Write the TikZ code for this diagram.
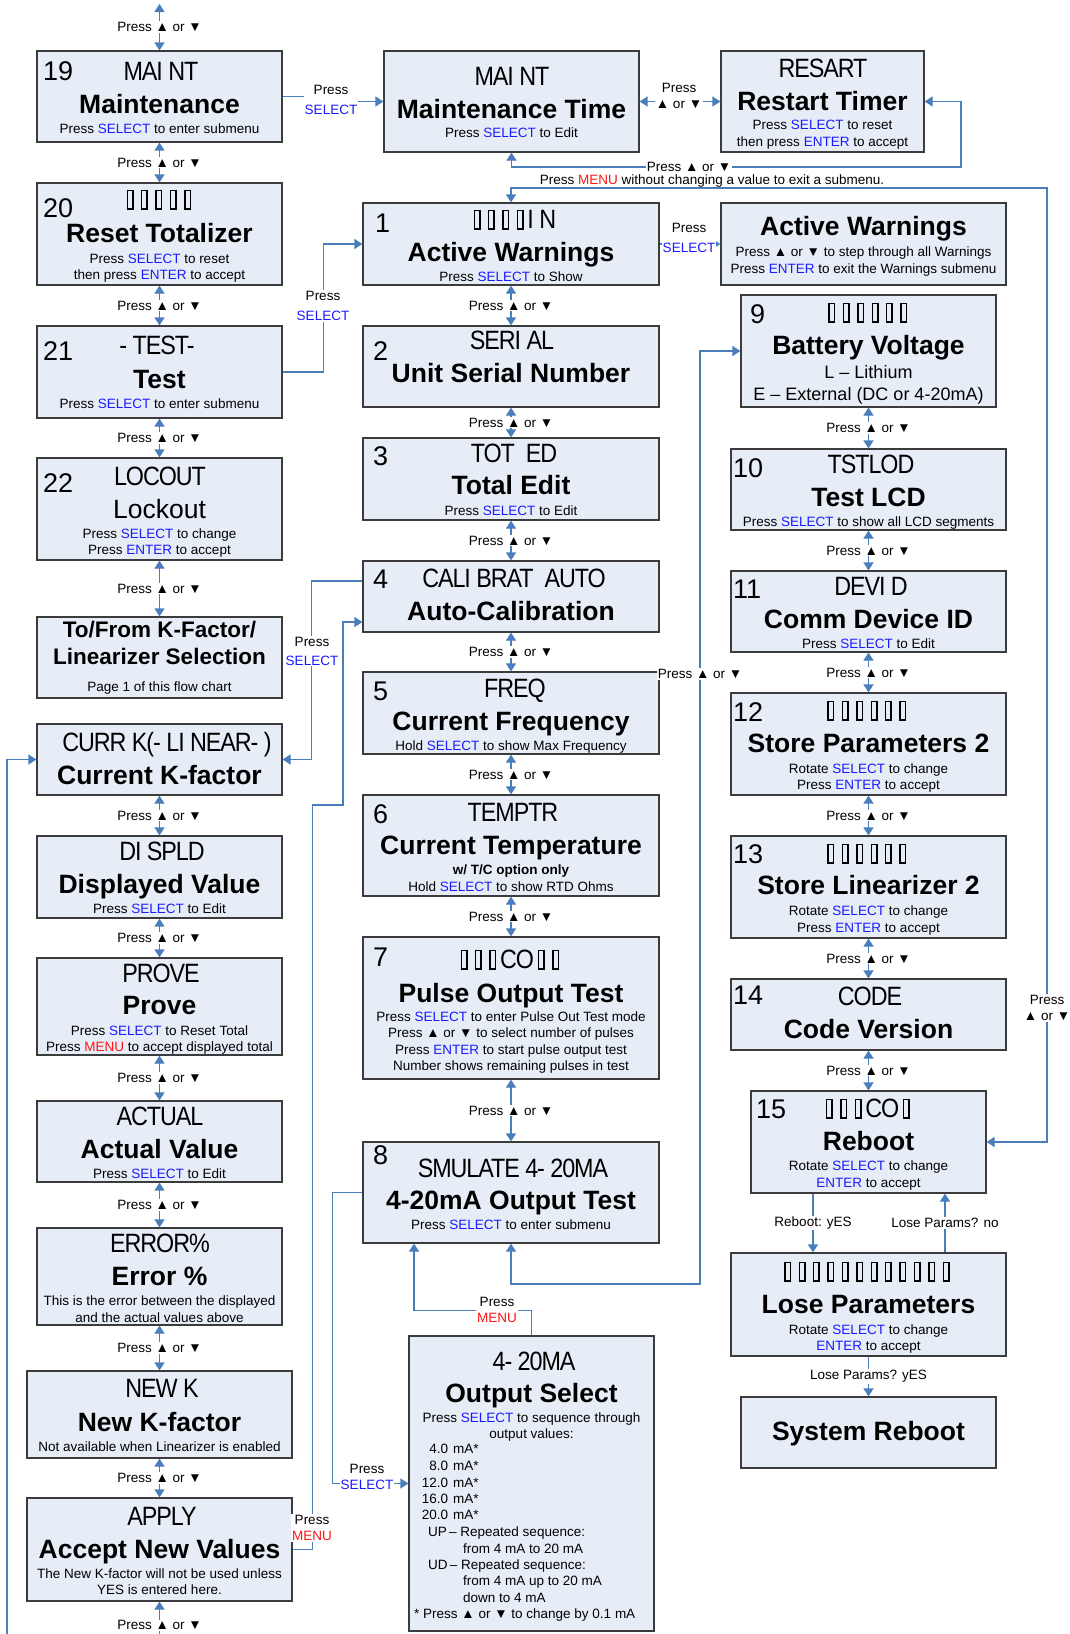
\documentclass[tikz,border=0pt]{standalone}
\usepackage{fontspec}
\usepackage{xcolor}
\usetikzlibrary{arrows.meta}
\setmainfont{Liberation Sans}
\newfontfamily\lcdfamily[FakeStretch=0.88, LetterSpace=-4]{Liberation Sans}

\definecolor{panelfill}{RGB}{231,237,247}
\definecolor{panelline}{RGB}{60,60,60}
\definecolor{flowblue}{RGB}{74,126,187}
\definecolor{keyblue}{RGB}{26,26,255}
\definecolor{keyred}{RGB}{255,20,20}

\newcommand{\titlesize}{\fontsize{26.5}{30}\selectfont\bfseries}
\newcommand{\notesize}{\fontsize{13.5}{16}\selectfont}
\newcommand{\lcdsize}{\fontsize{26.5}{30}\selectfont\lcdfamily}
\newcommand{\numsize}{\fontsize{27}{30}\selectfont}
\newcommand{\kSel}{\textcolor{keyblue}{SELECT}}
\newcommand{\kEnt}{\textcolor{keyblue}{ENTER}}
\newcommand{\kMenu}{\textcolor{keyred}{MENU}}
\newcommand{\nobox}{\hspace{3.7pt}{\setlength{\fboxsep}{0pt}\setlength{\fboxrule}{1.5pt}\fbox{\rule{0pt}{17pt}\hspace{4pt}}}\hspace{3.7pt}}

\begin{document}
\begin{tikzpicture}[x=1pt, y=-1pt, >={Triangle[width=10pt,length=8pt]},
    panel/.style={draw=panelline, fill=panelfill, line width=1.2pt, inner sep=0pt},
    lcdtxt/.style={anchor=base, inner sep=0pt, font=\lcdsize},
    ttl/.style={anchor=base, inner sep=0pt, font=\titlesize},
    notetxt/.style={anchor=base, inner sep=0pt, font=\notesize},
    numtag/.style={anchor=base west, inner sep=0pt, font=\numsize},
    lbl/.style={fill=white, inner sep=1pt, align=center, font=\notesize},
    flow/.style={draw=flowblue, line width=1.2pt}]

\path[use as bounding box, fill=white] (0,0) rectangle (1069,1634);

% left column
\node[panel, minimum width=245pt, minimum height=91pt] (p19) at (159.5,96.5) {};
\node[numtag] (p19n) at (43,80) {19};
\node[lcdtxt] (p19a) at (161,80) {MAI NT};
\node[ttl] (p19b) at (159.5,113) {Maintenance};
\node[notetxt] (p19c) at (159.5,133) {Press \kSel{} to enter submenu};

\node[panel, minimum width=245pt, minimum height=102pt] (p20) at (159.5,234) {};
\node[numtag] (p20n) at (43,217) {20};
\node[lcdtxt] (p20a) at (157,208) {\nobox\nobox\nobox\nobox\nobox};
\node[ttl] (p20b) at (159.5,242) {Reset Totalizer};
\node[notetxt] (p20c) at (159.5,263) {Press \kSel{} to reset};
\node[notetxt] (p20d) at (159.5,279) {then press \kEnt{} to accept};

\node[panel, minimum width=245pt, minimum height=92pt] (p21) at (159.5,372) {};
\node[numtag] (p21n) at (43,360) {21};
\node[lcdtxt] (p21a) at (157,354) {- TEST-};
\node[ttl] (p21b) at (159.5,388) {Test};
\node[notetxt] (p21c) at (159.5,408) {Press \kSel{} to enter submenu};

\node[panel, minimum width=245pt, minimum height=102pt] (p22) at (159.5,509) {};
\node[numtag] (p22n) at (43,492) {22};
\node[lcdtxt] (p22a) at (160,485) {LOCOUT};
\node[ttl, font=\fontsize{26.5}{30}\selectfont] (p22b) at (159.5,518) {Lockout};
\node[notetxt] (p22c) at (159.5,538) {Press \kSel{} to change};
\node[notetxt] (p22d) at (159.5,554) {Press \kEnt{} to accept};

\node[panel, minimum width=245pt, minimum height=81pt] (pkf) at (159.5,657.5) {};
\node[ttl, font=\fontsize{22.5}{26}\selectfont\bfseries] (pkfa) at (159.5,637) {To/From K-Factor/};
\node[ttl, font=\fontsize{22.5}{26}\selectfont\bfseries] (pkfb) at (159.5,664) {Linearizer Selection};
\node[notetxt] (pkfc) at (159.5,691) {Page 1 of this flow chart};

\node[panel, minimum width=245pt, minimum height=71pt] (pcur) at (159.5,759.5) {};
\node[lcdtxt] (pcura) at (167,751) {CURR K(- LI NEAR- )};
\node[ttl] (pcurb) at (159.5,784) {Current K-factor};

\node[panel, minimum width=245pt, minimum height=82pt] (pdis) at (159.5,877) {};
\node[lcdtxt] (pdisa) at (162,860) {DI SPLD};
\node[ttl] (pdisb) at (159.5,893) {Displayed Value};
\node[notetxt] (pdisc) at (159.5,913) {Press \kSel{} to Edit};

\node[panel, minimum width=245pt, minimum height=97pt] (ppro) at (159.5,1006.5) {};
\node[lcdtxt] (pproa) at (161,982) {PROVE};
\node[ttl] (pprob) at (159.5,1014) {Prove};
\node[notetxt] (pproc) at (159.5,1035) {Press \kSel{} to Reset Total};
\node[notetxt] (pprod) at (159.5,1051) {Press \kMenu{} to accept displayed total};

\node[panel, minimum width=245pt, minimum height=81pt] (pact) at (159.5,1141.5) {};
\node[lcdtxt] (pacta) at (160,1125) {ACTUAL};
\node[ttl] (pactb) at (159.5,1158) {Actual Value};
\node[notetxt] (pactc) at (159.5,1178) {Press \kSel{} to Edit};

\node[panel, minimum width=245pt, minimum height=97pt] (perr) at (159.5,1276.5) {};
\node[lcdtxt] (perra) at (160,1252) {ERROR\%};
\node[ttl] (perrb) at (159.5,1285) {Error \%};
\node[notetxt] (perrc) at (159.5,1305) {This is the error between the displayed};
\node[notetxt] (perrd) at (159.5,1322) {and the actual values above};

\node[panel, minimum width=265pt, minimum height=87pt] (pnew) at (159.5,1414.5) {};
\node[lcdtxt] (pnewa) at (162,1397) {NEW K};
\node[ttl] (pnewb) at (159.5,1431) {New K-factor};
\node[notetxt] (pnewc) at (159.5,1451) {Not available when Linearizer is enabled};

\node[panel, minimum width=265pt, minimum height=103pt] (papp) at (159.5,1549.5) {};
\node[lcdtxt] (pappa) at (162,1525) {APPLY};
\node[ttl] (pappb) at (159.5,1558) {Accept New Values};
\node[notetxt] (pappc) at (159.5,1578) {The New K-factor will not be used unless};
\node[notetxt] (pappd) at (159.5,1594) {YES is entered here.};

% middle column
\node[panel, minimum width=255pt, minimum height=101pt] (pmt) at (511.5,101.5) {};
\node[lcdtxt] (pmta) at (512,85) {MAI NT};
\node[ttl] (pmtb) at (511.5,118) {Maintenance Time};
\node[notetxt] (pmtc) at (511.5,137) {Press \kSel{} to Edit};

\node[panel, minimum width=203pt, minimum height=101pt] (prs) at (822.5,101.5) {};
\node[lcdtxt] (prsa) at (823,77) {RESART};
\node[ttl] (prsb) at (822.5,110) {Restart Timer};
\node[notetxt] (prsc) at (822.5,129) {Press \kSel{} to reset};
\node[notetxt] (prsd) at (822.5,146) {then press \kEnt{} to accept};

\node[panel, minimum width=296pt, minimum height=82pt] (p1) at (511,244) {};
\node[numtag] (p1n) at (375,232) {1};
\node[lcdtxt] (p1a) at (513,228) {\nobox\nobox\nobox\nobox I N};
\node[ttl] (p1b) at (511,261) {Active Warnings};
\node[notetxt] (p1c) at (511,281) {Press \kSel{} to Show};

\node[panel, minimum width=285pt, minimum height=82pt] (paw) at (863.5,244) {};
\node[ttl] (pawa) at (863.5,235) {Active Warnings};
\node[notetxt] (pawb) at (863.5,256) {Press ▲ or ▼ to step through all Warnings};
\node[notetxt] (pawc) at (863.5,273) {Press \kEnt{} to exit the Warnings submenu};

\node[panel, minimum width=296pt, minimum height=81pt] (p2) at (511,366.5) {};
\node[numtag] (p2n) at (373,360) {2};
\node[lcdtxt] (p2a) at (512,349) {SERI AL};
\node[ttl] (p2b) at (511,382) {Unit Serial Number};

\node[panel, minimum width=296pt, minimum height=82pt] (p3) at (511,479) {};
\node[numtag] (p3n) at (373,465) {3};
\node[lcdtxt] (p3a) at (514,462) {TOT\ \ ED};
\node[ttl] (p3b) at (511,494) {Total Edit};
\node[notetxt] (p3c) at (511,515) {Press \kSel{} to Edit};

\node[panel, minimum width=296pt, minimum height=71pt] (p4) at (511,596.5) {};
\node[numtag] (p4n) at (373,588) {4};
\node[lcdtxt] (p4a) at (514,587) {CALI BRAT\ \ AUTO};
\node[ttl] (p4b) at (511,620) {Auto-Calibration};

\node[panel, minimum width=296pt, minimum height=82pt] (p5) at (511,713) {};
\node[numtag] (p5n) at (373,700) {5};
\node[lcdtxt] (p5a) at (515,697) {FREQ};
\node[ttl] (p5b) at (511,730) {Current Frequency};
\node[notetxt] (p5c) at (511,750) {Hold \kSel{} to show Max Frequency};

\node[panel, minimum width=296pt, minimum height=101pt] (p6) at (511,845.5) {};
\node[numtag] (p6n) at (373,823) {6};
\node[lcdtxt] (p6a) at (513,821) {TEMPTR};
\node[ttl] (p6b) at (511,854) {Current Temperature};
\node[notetxt, font=\notesize\bfseries] (p6c) at (511,874) {w/ T/C option only};
\node[notetxt] (p6d) at (511,891) {Hold \kSel{} to show RTD Ohms};

\node[panel, minimum width=296pt, minimum height=142pt] (p7) at (511,1008) {};
\node[numtag] (p7n) at (373,966) {7};
\node[lcdtxt] (p7a) at (508,968) {\nobox\nobox\nobox CO\nobox\nobox};
\node[ttl] (p7b) at (511,1002) {Pulse Output Test};
\node[notetxt] (p7c) at (511,1021) {Press \kSel{} to enter Pulse Out Test mode};
\node[notetxt] (p7d) at (511,1037) {Press ▲ or ▼ to select number of pulses};
\node[notetxt] (p7e) at (511,1054) {Press \kEnt{} to start pulse output test};
\node[notetxt] (p7f) at (511,1070) {Number shows remaining pulses in test};

\node[panel, minimum width=296pt, minimum height=101pt] (p8) at (511,1192.5) {};
\node[numtag] (p8n) at (373,1164) {8};
\node[lcdtxt] (p8a) at (513,1177) {SMULATE 4- 20MA};
\node[ttl] (p8b) at (511,1209) {4-20mA Output Test};
\node[notetxt] (p8c) at (511,1229) {Press \kSel{} to enter submenu};

\node[panel, minimum width=245pt, minimum height=295pt] (pos) at (531.5,1483.5) {};
\node[lcdtxt] (posa) at (534,1370) {4- 20MA};
\node[ttl] (posb) at (531.5,1402) {Output Select};
\node[notetxt] (posc) at (531.5,1422) {Press \kSel{} to sequence through};
\node[notetxt] (posd) at (531.5,1438) {output values:};
\node[notetxt, anchor=base west] (pose) at (421,1453) {\makebox[27pt][r]{4.0}\hspace{5pt}mA*};
\node[notetxt, anchor=base west] (posf) at (421,1470) {\makebox[27pt][r]{8.0}\hspace{5pt}mA*};
\node[notetxt, anchor=base west] (posg) at (421,1487) {\makebox[27pt][r]{12.0}\hspace{5pt}mA*};
\node[notetxt, anchor=base west] (posh) at (421,1503) {\makebox[27pt][r]{16.0}\hspace{5pt}mA*};
\node[notetxt, anchor=base west] (posi) at (421,1519) {\makebox[27pt][r]{20.0}\hspace{5pt}mA*};
\node[notetxt, anchor=base west] (posj) at (428,1536) {UP\,– Repeated sequence:};
\node[notetxt, anchor=base west] (posk) at (463,1553) {from 4 mA to 20 mA};
\node[notetxt, anchor=base west] (posl) at (428,1569) {UD\,– Repeated sequence:};
\node[notetxt, anchor=base west] (posm) at (463,1585) {from 4 mA up to 20 mA};
\node[notetxt, anchor=base west] (posn) at (463,1602) {down to 4 mA};
\node[notetxt, anchor=base west] (poso) at (414,1618) {* Press ▲ or ▼ to change by 0.1 mA};

% right column
\node[panel, minimum width=255pt, minimum height=112pt] (p9) at (868.5,351) {};
\node[numtag] (p9n) at (750,323) {9};
\node[lcdtxt] (p9a) at (866,321) {\nobox\nobox\nobox\nobox\nobox\nobox};
\node[ttl] (p9b) at (868.5,354) {Battery Voltage};
\node[notetxt, font=\fontsize{18}{20}\selectfont] (p9c) at (868.5,378) {L – Lithium};
\node[notetxt, font=\fontsize{18}{20}\selectfont] (p9d) at (868.5,400) {E – External (DC or 4-20mA)};

\node[panel, minimum width=275pt, minimum height=81pt] (p10) at (868.5,489.5) {};
\node[numtag] (p10n) at (733,477) {10};
\node[lcdtxt] (p10a) at (871,473) {TSTLOD};
\node[ttl] (p10b) at (868.5,506) {Test LCD};
\node[notetxt] (p10c) at (868.5,526) {Press \kSel{} to show all LCD segments};

\node[panel, minimum width=275pt, minimum height=81pt] (p11) at (868.5,611.5) {};
\node[numtag] (p11n) at (733,598) {11};
\node[lcdtxt] (p11a) at (871,595) {DEVI D};
\node[ttl] (p11b) at (868.5,628) {Comm Device ID};
\node[notetxt] (p11c) at (868.5,648) {Press \kSel{} to Edit};

\node[panel, minimum width=275pt, minimum height=102pt] (p12) at (868.5,744) {};
\node[numtag] (p12n) at (733,721) {12};
\node[lcdtxt] (p12a) at (865,719) {\nobox\nobox\nobox\nobox\nobox\nobox};
\node[ttl] (p12b) at (868.5,752) {Store Parameters 2};
\node[notetxt] (p12c) at (868.5,773) {Rotate \kSel{} to change};
\node[notetxt] (p12d) at (868.5,789) {Press \kEnt{} to accept};

\node[panel, minimum width=275pt, minimum height=102pt] (p13) at (868.5,887) {};
\node[numtag] (p13n) at (733,863) {13};
\node[lcdtxt] (p13a) at (865,862) {\nobox\nobox\nobox\nobox\nobox\nobox};
\node[ttl] (p13b) at (868.5,894) {Store Linearizer 2};
\node[notetxt] (p13c) at (868.5,915) {Rotate \kSel{} to change};
\node[notetxt] (p13d) at (868.5,932) {Press \kEnt{} to accept};

\node[panel, minimum width=275pt, minimum height=71pt] (p14) at (868.5,1014.5) {};
\node[numtag] (p14n) at (733,1004) {14};
\node[lcdtxt] (p14a) at (870,1005) {CODE};
\node[ttl] (p14b) at (868.5,1038) {Code Version};

\node[panel, minimum width=235pt, minimum height=102pt] (p15) at (868.5,1142) {};
\node[numtag] (p15n) at (756,1118) {15};
\node[lcdtxt] (p15a) at (866,1117) {\nobox\nobox\nobox CO\nobox};
\node[ttl] (p15b) at (868.5,1150) {Reboot};
\node[notetxt] (p15c) at (868.5,1170) {Rotate \kSel{} to change};
\node[notetxt] (p15d) at (868.5,1187) {\kEnt{} to accept};

\node[panel, minimum width=275pt, minimum height=103pt] (plp) at (868.5,1304.5) {};
\node[lcdtxt] (plpa) at (865,1280) {\nobox\nobox\nobox\nobox\nobox\nobox\nobox\nobox\nobox\nobox\nobox\nobox};
\node[ttl] (plpb) at (868.5,1313) {Lose Parameters};
\node[notetxt] (plpc) at (868.5,1334) {Rotate \kSel{} to change};
\node[notetxt] (plpd) at (868.5,1350) {\kEnt{} to accept};

\node[panel, minimum width=255pt, minimum height=71pt] (psr) at (868.5,1432.5) {};
\node[ttl] (psra) at (868.5,1440) {System Reboot};

% up/down steps
\coordinate (topend) at (159.5,4);
\coordinate (botend) at (159.5,1634);
\coordinate (leftend) at (7,1634);
\draw[flow,<->] (topend) -- (p19.north) node[lbl, midway] (s0) {Press ▲ or ▼};
\draw[flow,<->] (p19.south) -- (p20.north) node[lbl, midway] (s1) {Press ▲ or ▼};
\draw[flow,<->] (p20.south) -- (p21.north) node[lbl, midway] (s2) {Press ▲ or ▼};
\draw[flow,<->] (p21.south) -- (p22.north) node[lbl, midway] (s3) {Press ▲ or ▼};
\draw[flow,<->] (p22.south) -- (pkf.north) node[lbl, midway] (s4) {Press ▲ or ▼};
\draw[flow,<->] (pcur.south) -- (pdis.north) node[lbl, midway] (s5) {Press ▲ or ▼};
\draw[flow,<->] (pdis.south) -- (ppro.north) node[lbl, midway] (s6) {Press ▲ or ▼};
\draw[flow,<->] (ppro.south) -- (pact.north) node[lbl, midway] (s7) {Press ▲ or ▼};
\draw[flow,<->] (pact.south) -- (perr.north) node[lbl, midway] (s8) {Press ▲ or ▼};
\draw[flow,<->] (perr.south) -- (pnew.north) node[lbl, midway] (s9) {Press ▲ or ▼};
\draw[flow,<->] (pnew.south) -- (papp.north) node[lbl, midway] (s10) {Press ▲ or ▼};
\draw[flow,->] (botend) -- (papp.south) node[lbl, pos=0.27] (s11) {Press ▲ or ▼};
\draw[flow,->] (leftend) |- (pcur.west);

\draw[flow,<->] (p1.south) -- (p2.north) node[lbl, midway] (m1) {Press ▲ or ▼};
\draw[flow,<->] (p2.south) -- (p3.north) node[lbl, midway] (m2) {Press ▲ or ▼};
\draw[flow,<->] (p3.south) -- (p4.north) node[lbl, midway] (m3) {Press ▲ or ▼};
\draw[flow,<->] (p4.south) -- (p5.north) node[lbl, midway] (m4) {Press ▲ or ▼};
\draw[flow,<->] (p5.south) -- (p6.north) node[lbl, midway] (m5) {Press ▲ or ▼};
\draw[flow,<->] (p6.south) -- (p7.north) node[lbl, midway] (m6) {Press ▲ or ▼};
\draw[flow,<->] (p7.south) -- (p8.north) node[lbl, midway] (m7) {Press ▲ or ▼};

\draw[flow,<->] (p9.south) -- (p10.north) node[lbl, midway] (r1) {Press ▲ or ▼};
\draw[flow,<->] (p10.south) -- (p11.north) node[lbl, midway] (r2) {Press ▲ or ▼};
\draw[flow,<->] (p11.south) -- (p12.north) node[lbl, midway] (r3) {Press ▲ or ▼};
\draw[flow,<->] (p12.south) -- (p13.north) node[lbl, midway] (r4) {Press ▲ or ▼};
\draw[flow,<->] (p13.south) -- (p14.north) node[lbl, midway] (r5) {Press ▲ or ▼};
\draw[flow,<->] (p14.south) -- (p15.north) node[lbl, midway] (r6) {Press ▲ or ▼};

% submenus and jumps
\draw[flow,->] (p19.east) -- ++(49,0) |- (pmt.west);
\draw[flow,<->] (pmt.east) -- (prs.west);
\draw[flow,<->] (pmt.south) |- (961,167) |- (prs.east);
\draw[flow,<->] (p1.north) |- (1047,188) |- (p15.east);
\draw[flow,->] (p21.east) -- ++(41,0) |- (p1.west);
\draw[flow,->] (p1.east) -- (paw.west);
\draw[flow,->] ([yshift=15.5pt]p4.west) -- ++(-51,0) |- (pcur.east);
\draw[flow,->] (papp.east) -- ++(20,0) |- (343,805) |- ([yshift=-25.5pt]p4.west);
\draw[flow,->] (p8.west) -- ++(-30,0) |- (pos.west);
\draw[flow,->] (pos.north) -- ++(0,-25) -| ([xshift=-97pt]p8.south);
\draw[flow,<->] (p8.south) |- (700,1284) |- (p9.west);
\draw[flow,->] ([xshift=-55.5pt]p15.south) -- ([xshift=-55.5pt]plp.north) node[lbl, midway] (q1) {Reboot: yES};
\draw[flow,->] ([xshift=76.5pt]plp.north) -- ([xshift=76.5pt]p15.south) node[lbl, midway] (q2) {Lose Params? no};
\draw[flow,->] (plp.south) -- (psr.north) node[lbl, midway] (q3) {Lose Params? yES};

\node[lbl] (j19) at (331,100) {Press\\[4pt]\kSel};
\node[lbl] (jmr) at (679,96) {Press\\▲ or ▼};
\node[lbl] (jmb) at (689,167) {Press ▲ or ▼};
\node[notetxt] (menunote) at (712,184) {Press \kMenu{} without changing a value to exit a submenu.};
\node[lbl] (jr) at (1047,1008) {Press\\▲ or ▼};
\node[lbl] (j21) at (323,306) {Press\\[4pt]\kSel};
\node[lbl] (j1) at (689,238) {Press\\[4pt]\kSel};
\node[lbl] (j4) at (312,651) {Press\\[3pt]\kSel};
\node[lbl] (japp) at (312,1528) {Press\\\kMenu};
\node[lbl] (j8s) at (367,1477) {Press\\\kSel};
\node[lbl] (j8m) at (497,1310) {Press\\\kMenu};
\node[lbl] (j89) at (700,674) {Press ▲ or ▼};
\end{tikzpicture}
\end{document}
